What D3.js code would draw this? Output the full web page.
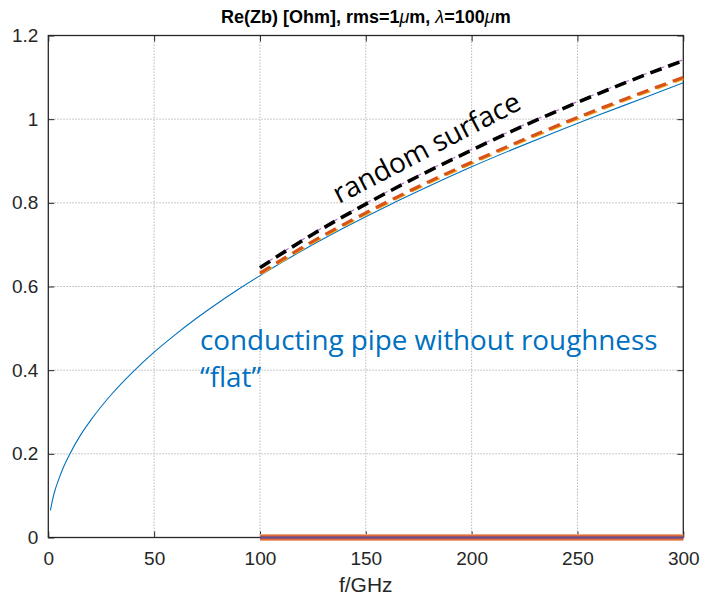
<!DOCTYPE html>
<html>
<head>
<meta charset="utf-8">
<script src="https://cdn.jsdelivr.net/npm/d3@7"></script>
<style>
  html, body { margin: 0; padding: 0; background: #fff; }
  svg { display: block; }
</style>
</head>
<body>
<svg id="chart" width="702" height="600"></svg>
<script>
// Frequency grid (GHz) and Re(Zb) for the smooth pipe
const flatFreq = [1, 2, 3, 5, 7, 10, 15, 20, 30, 40, 50, 60, 70, 80, 90, 100,
                  120, 140, 160, 180, 200, 220, 240, 260, 280, 300];
const flatZ = [0.065, 0.09, 0.11, 0.14, 0.166, 0.198, 0.243, 0.28, 0.343, 0.396,
               0.443, 0.485, 0.524, 0.56, 0.594, 0.626, 0.686, 0.741, 0.792, 0.84,
               0.886, 0.929, 0.97, 1.01, 1.048, 1.087];

// Random rough surface results
const roughFreq = [100, 125, 150, 175, 200, 225, 250, 275, 300];
const roughA = [0.645, 0.725, 0.797, 0.864, 0.926, 0.985, 1.04, 1.092, 1.14];
const roughB = [0.647, 0.727, 0.799, 0.866, 0.928, 0.987, 1.042, 1.094, 1.142];
const roughC = [0.632, 0.708, 0.776, 0.839, 0.897, 0.952, 1.004, 1.053, 1.10];
const roughD = [0.628, 0.704, 0.772, 0.835, 0.893, 0.948, 1.0, 1.049, 1.096];
const zeroLine = [0, 0, 0, 0, 0, 0, 0, 0, 0];

const xTicks = [0, 50, 100, 150, 200, 250, 300];
const yTicks = [0, 0.2, 0.4, 0.6, 0.8, 1, 1.2];
const yTickLabels = ["0", "0.2", "0.4", "0.6", "0.8", "1", "1.2"];

const svg = d3.select("#chart");
const plotL = 48.3, plotR = 683.3, plotT = 35.5, plotB = 537.5;

const x = d3.scaleLinear().domain([0, 300]).range([plotL, plotR]);
const y = d3.scaleLinear().domain([0, 1.2]).range([plotB, plotT]);

const fontTick = "'Liberation Sans', Arial, Helvetica, sans-serif";

// grid
const grid = svg.append("g").attr("stroke", "#b8b8b8").attr("stroke-width", 1)
  .attr("stroke-dasharray", "1.5,1.5");
xTicks.slice(1, -1).forEach(t => {
  grid.append("line").attr("x1", x(t)).attr("x2", x(t)).attr("y1", plotT).attr("y2", plotB);
});
yTicks.slice(1, -1).forEach(t => {
  grid.append("line").attr("x1", plotL).attr("x2", plotR).attr("y1", y(t)).attr("y2", y(t));
});

// axes (ticks pointing inward)
const axB = svg.append("g").attr("transform", `translate(0,${plotB})`)
  .call(d3.axisBottom(x).tickValues(xTicks).tickSizeInner(-6).tickSizeOuter(0).tickPadding(14));
const axL = svg.append("g").attr("transform", `translate(${plotL},0)`)
  .call(d3.axisLeft(y).tickValues(yTicks).tickFormat((d, i) => yTickLabels[i])
        .tickSizeInner(-6).tickSizeOuter(0).tickPadding(10));
const axT = svg.append("g").attr("transform", `translate(0,${plotT})`)
  .call(d3.axisTop(x).tickValues(xTicks).tickSizeInner(-6).tickSizeOuter(0).tickFormat(""));
const axR = svg.append("g").attr("transform", `translate(${plotR},0)`)
  .call(d3.axisRight(y).tickValues(yTicks).tickSizeInner(-6).tickSizeOuter(0).tickFormat(""));
[axB, axL, axT, axR].forEach(a => {
  a.select(".domain").remove();
  a.selectAll("line").attr("stroke", "#262626").attr("stroke-width", 1);
  a.selectAll("text").attr("fill", "#262626").attr("font-family", fontTick).attr("font-size", 19);
});

// frame
svg.append("rect").attr("x", plotL).attr("y", plotT).attr("width", plotR - plotL).attr("height", plotB - plotT)
  .attr("fill", "none").attr("stroke", "#262626").attr("stroke-width", 1.3);

const line = (xs, ys) => d3.line().x((d, i) => x(xs[i])).y(d => y(d)).curve(d3.curveMonotoneX)(ys);

// zero-level results
svg.append("path").attr("d", line(roughFreq, zeroLine)).attr("fill", "none")
  .attr("stroke", "#eea47e").attr("stroke-width", 7);
svg.append("path").attr("d", line(roughFreq, zeroLine)).attr("fill", "none")
  .attr("stroke", "#d95a28").attr("stroke-width", 4.5);
svg.append("path").attr("d", line(roughFreq, zeroLine)).attr("fill", "none")
  .attr("stroke", "#5b4f9e").attr("stroke-width", 1.8);

// flat pipe
svg.append("path").attr("d", line(flatFreq, flatZ)).attr("fill", "none")
  .attr("stroke", "#0072BD").attr("stroke-width", 1.1);

// rough surface curves
svg.append("path").attr("d", line(roughFreq, roughD)).attr("fill", "none")
  .attr("stroke", "#EDB120").attr("stroke-width", 2).attr("stroke-dasharray", "12,7").attr("stroke-dashoffset", -2);
svg.append("path").attr("d", line(roughFreq, roughC)).attr("fill", "none")
  .attr("stroke", "#D95319").attr("stroke-width", 3.2).attr("stroke-dasharray", "12,7");
svg.append("path").attr("d", line(roughFreq, roughB)).attr("fill", "none")
  .attr("stroke", "#b070c8").attr("stroke-width", 1.2).attr("stroke-dasharray", "12,7").attr("stroke-dashoffset", -3);
svg.append("path").attr("d", line(roughFreq, roughA)).attr("fill", "none")
  .attr("stroke", "#000").attr("stroke-width", 3.6).attr("stroke-dasharray", "12,7");

// title
const title = svg.append("text").attr("x", (plotL + plotR) / 2).attr("y", 23)
  .attr("text-anchor", "middle").attr("font-family", fontTick).attr("font-weight", "bold")
  .attr("font-size", 18).attr("fill", "#000");
title.append("tspan").text("Re(Zb) [Ohm], rms=1");
title.append("tspan").attr("font-style", "italic").attr("font-weight", "normal").text("\u03bc");
title.append("tspan").text("m, ");
title.append("tspan").attr("font-style", "italic").attr("font-weight", "normal").text("\u03bb");
title.append("tspan").text("=100");
title.append("tspan").attr("font-style", "italic").attr("font-weight", "normal").text("\u03bc");
title.append("tspan").text("m");

// x label
svg.append("text").attr("x", (plotL + plotR) / 2).attr("y", 592).attr("text-anchor", "middle")
  .attr("font-family", fontTick).attr("font-size", 21).attr("fill", "#262626").text("f/GHz");

// annotations
const fontNote = "'Open Sans', 'Noto Sans', sans-serif";
svg.append("text").attr("transform", "translate(339,204) rotate(-27.5)")
  .attr("font-family", fontNote).attr("font-size", 28).attr("fill", "#000").text("random surface");
svg.append("text").attr("x", 200).attr("y", 350).attr("font-family", fontNote).attr("font-size", 27.8)
  .attr("fill", "#0070C0").text("conducting pipe without roughness");
svg.append("text").attr("x", 200).attr("y", 387).attr("font-family", fontNote).attr("font-size", 27.8)
  .attr("fill", "#0070C0").text("\u201cflat\u201d");
</script>
</body>
</html>
